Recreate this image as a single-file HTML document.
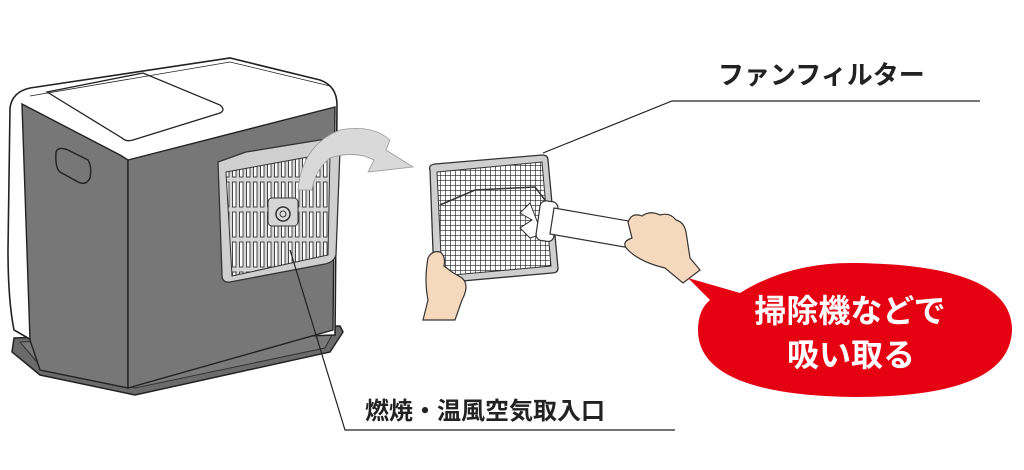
<!DOCTYPE html>
<html><head><meta charset="utf-8"><style>
html,body{margin:0;padding:0;background:#fff;}
svg{display:block;}
text{font-family:"Liberation Sans","Noto Sans CJK JP",sans-serif;font-weight:bold;}
</style></head><body>
<svg width="1024" height="470" viewBox="0 0 1024 470" xmlns="http://www.w3.org/2000/svg">
<defs>
<pattern id="grid" width="5" height="5" patternUnits="userSpaceOnUse">
<rect width="5" height="5" fill="#fff"/>
<path d="M0 0H5M0 0V5" stroke="#222" stroke-width="1.3"/>
</pattern>
<pattern id="slots" width="7" height="30" patternUnits="userSpaceOnUse">
<rect width="7" height="30" fill="#d6d6d6"/>
<rect x="1.5" y="2" width="3.5" height="25" fill="#fff" stroke="#333" stroke-width="0.9"/>
</pattern>
</defs>
<!-- base tray -->
<path d="M14 338 L340 326 L343 332 L330 352 L135 395 L40 375 L12 352 Z" fill="#6b6b6b" stroke="#222" stroke-width="1.5"/>
<path d="M20 342 L334 331 L325 348 L135 388 L42 368 Z" fill="#7a7a7a" stroke="#333" stroke-width="1"/>
<!-- white outer shell -->
<path d="M10 108 Q12 92 30 88 L230 58 L320 80 Q337 86 337 105 L335 335 L40 345 L14 330 Q8 300 8 250 Z" fill="#fff" stroke="#222" stroke-width="1.6"/>
<!-- front face gray -->
<path d="M22 104 L120 155 L128 160 L128 388 L40 370 L30 340 Z" fill="#777" stroke="#222" stroke-width="1.4"/>
<!-- right side face -->
<path d="M128 160 L335 107 L333 330 L128 388 Z" fill="#777" stroke="#222" stroke-width="1.4"/>
<!-- top lid -->
<path d="M47 92 L143 73 L220 105 Q226 110 220 113 L133 140 Q126 142 122 138 Z" fill="#fff" stroke="#222" stroke-width="1.3"/>
<path d="M30 96 L230 62 L330 86" fill="none" stroke="#222" stroke-width="0.8"/>
<!-- handle -->
<path d="M56 152 Q58 146 68 150 L88 160 Q92 166 90 178 Q86 186 78 182 L60 172 Q55 168 56 152 Z" fill="#777" stroke="#222" stroke-width="1.4"/>
<!-- panel on heater -->
<path d="M218 162 L246 152 L320 140 Q336 138 340 150 L336 255 Q334 262 325 264 L230 282 Q222 283 222 275 Z" fill="#cfcfcf" stroke="#333" stroke-width="1.3"/>
<path d="M226 172 L330 153 L328 255 L232 276 Z" fill="url(#slots)" stroke="#333" stroke-width="1"/>
<rect x="268" y="198" width="30" height="28" rx="4" fill="#d6d6d6" stroke="#333"/>
<circle cx="283" cy="214" r="7" fill="#ddd" stroke="#333" stroke-width="1.5"/>
<circle cx="283" cy="214" r="3" fill="none" stroke="#333" stroke-width="1"/>
<!-- curved arrow -->
<path d="M298 190 Q302 145 340 130 Q372 124 390 140 L386 150 L413 167 L368 172 L374 160 Q355 150 330 158 Q315 170 312 190 Z" fill="#d9d9d9" stroke="#999" stroke-width="0.8"/>
<!-- leader lines -->
<polyline points="290,250 345,430 675,430" fill="none" stroke="#222" stroke-width="1.2"/>
<polyline points="543,153 672,101 980,101" fill="none" stroke="#222" stroke-width="1.2"/>
<!-- filter -->
<path d="M430 170 Q428 165 435 164 L542 155 Q548 155 548 160 L558 268 Q558 273 552 273 L440 283 Q434 283 434 278 Z" fill="#cfcfcf" stroke="#333" stroke-width="1.3"/>
<path d="M437 172 L542 162 L551 266 L442 276 Z" fill="url(#grid)" stroke="#333" stroke-width="1"/>
<path d="M440 205 L475 190 L535 187 L545 200" fill="none" stroke="#333" stroke-width="1.5"/>
<!-- left hand -->
<path d="M428 258 Q432 250 440 252 Q446 256 444 266 L452 272 L462 278 Q470 285 462 300 L455 320 L423 320 L428 300 Q424 280 428 258 Z" fill="#f6d9bd" stroke="#333" stroke-width="1.2"/>
<!-- nozzle / hose -->
<path d="M530 203 L520 213 L532 220 L520 228 L530 238 L542 234 Z" fill="#fff" stroke="#333"/>
<rect x="538" y="201" width="18" height="40" rx="6" fill="#fff" stroke="#333" stroke-width="1.2" transform="rotate(8 546 221)"/>
<path d="M554 208 L640 223 L636 249 L550 234 Z" fill="#fff" stroke="#333" stroke-width="1.2"/>
<ellipse cx="638" cy="236" rx="5" ry="13" fill="#fff" stroke="#333" transform="rotate(10 638 236)"/>
<!-- right hand -->
<path d="M628 222 Q632 212 642 216 Q650 210 660 215 Q670 212 676 220 Q684 222 686 232 L690 258 L700 270 L683 283 L665 268 Q640 262 628 250 Q620 242 632 238 Z" fill="#f6d9bd" stroke="#333" stroke-width="1.2"/>
<!-- bubble -->
<path d="M688 278 L740 293 Q790 262 855 263 Q1012 265 1012 330 Q1010 397 855 397 Q698 395 698 330 Q698 310 710 300 Z" fill="#e50012"/>
<text x="850" y="322" font-size="32" fill="#fff" text-anchor="middle">掃除機などで</text>
<text x="851" y="366" font-size="32" fill="#fff" text-anchor="middle">吸い取る</text>
<!-- labels -->
<text x="718" y="84" font-size="26" fill="#222">ファンフィルター</text>
<text x="365" y="419" font-size="24" fill="#222">燃焼・温風空気取入口</text>
</svg>
</body></html>
